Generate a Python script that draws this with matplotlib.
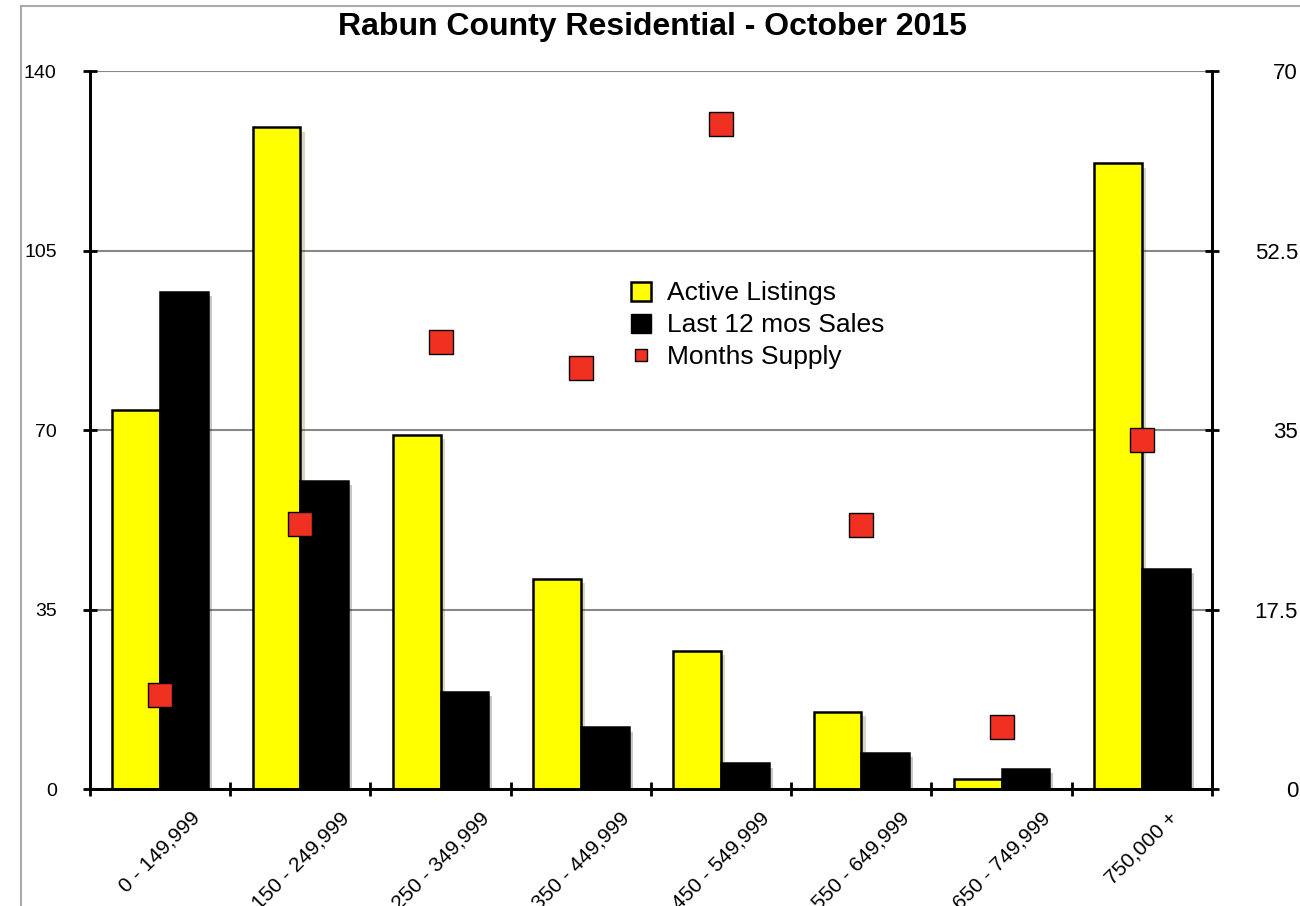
import numpy as np
import matplotlib.pyplot as plt
import matplotlib.patheffects as pe
from matplotlib.lines import Line2D
from matplotlib.patches import Patch

categories = ['0 - 149,999', '150 - 249,999', '250 - 349,999', '350 - 449,999',
              '450 - 549,999', '550 - 649,999', '650 - 749,999', '750,000 +']
active = [74, 129, 69, 41, 27, 15, 2, 122]
sales = [97, 60, 19, 12, 5, 7, 4, 43]
supply = [9.2, 25.8, 43.6, 41.0, 64.8, 25.7, 6.0, 34.0]

plt.rcParams['font.family'] = ['Liberation Sans', 'DejaVu Sans']

fig = plt.figure(figsize=(13, 9.06), dpi=100)
ax = fig.add_axes([0.0692, 0.1291, 0.8631, 0.7925])
ax2 = ax.twinx()

x = np.arange(len(categories))
w = 0.34
shadow = [pe.SimplePatchShadow(offset=(3, -3), alpha=0.22), pe.Normal()]
b1 = ax.bar(x - w / 2, active, w, color='#ffff00', edgecolor='black', linewidth=1.8, zorder=3)
b2 = ax.bar(x + w / 2, sales, w, color='black', edgecolor='black', linewidth=1.8, zorder=3)
for b in list(b1) + list(b2):
    b.set_path_effects(shadow)

ax2.plot(x, supply, linestyle='none', marker='s', markersize=17,
         markerfacecolor='#f03020', markeredgecolor='black', markeredgewidth=1, zorder=4)

ax.set_xlim(-0.5, len(categories) - 0.5)
ax.set_ylim(0, 140)
ax2.set_ylim(0, 70)
ax.set_yticks([0, 35, 70, 105, 140])
ax2.set_yticks([0, 17.5, 35, 52.5, 70])
ax2.set_yticklabels(['0', '17.5', '35', '52.5', '70'], ha='right')

ax.yaxis.grid(True, color='#888888', linewidth=1.5, zorder=0)
ax.set_axisbelow(True)

# ticks at category boundaries, labels centred under groups
ax.set_xticks(np.arange(len(categories) + 1) - 0.5)
ax.set_xticklabels([])
ax.set_xticks(x, minor=True)
ax.set_xticklabels(categories, minor=True, rotation=45, ha='center', va='top', fontsize=15)
ax.tick_params(axis='x', which='minor', length=0, pad=14)
ax.tick_params(axis='x', which='major', length=10, width=2, direction='inout')
ax.tick_params(axis='y', labelsize=14, length=10, width=2, direction='inout', pad=19)
ax2.tick_params(axis='y', labelsize=16, length=10, width=2, direction='inout', pad=57)

for a in (ax, ax2):
    a.spines['top'].set_visible(False)
    for s in ('left', 'right', 'bottom'):
        a.spines[s].set_linewidth(2)

fig.text(0.5015, 0.970, 'Rabun County Residential - October 2015',
         fontsize=23, fontweight='bold', ha='center', va='center')

handles = [Patch(facecolor='#ffff00', edgecolor='black', linewidth=1.8),
           Patch(facecolor='black', edgecolor='black'),
           Line2D([], [], linestyle='none', marker='s', markersize=9,
                  markerfacecolor='#f03020', markeredgecolor='black')]
ax2.legend(handles, ['Active Listings', 'Last 12 mos Sales', 'Months Supply'],
           loc='upper left', bbox_to_anchor=(0.461, 0.74), frameon=False,
           fontsize=19, handlelength=0.75, handleheight=0.75, handletextpad=0.6,
           labelspacing=0.3)

# grey page frame
fig.add_artist(Line2D([0.016, 0.016], [0, 0.9934], color='#aaaaaa', linewidth=1.5))
fig.add_artist(Line2D([0.016, 1], [0.9934, 0.9934], color='#aaaaaa', linewidth=1.5))

plt.savefig('out.png', dpi=100)
